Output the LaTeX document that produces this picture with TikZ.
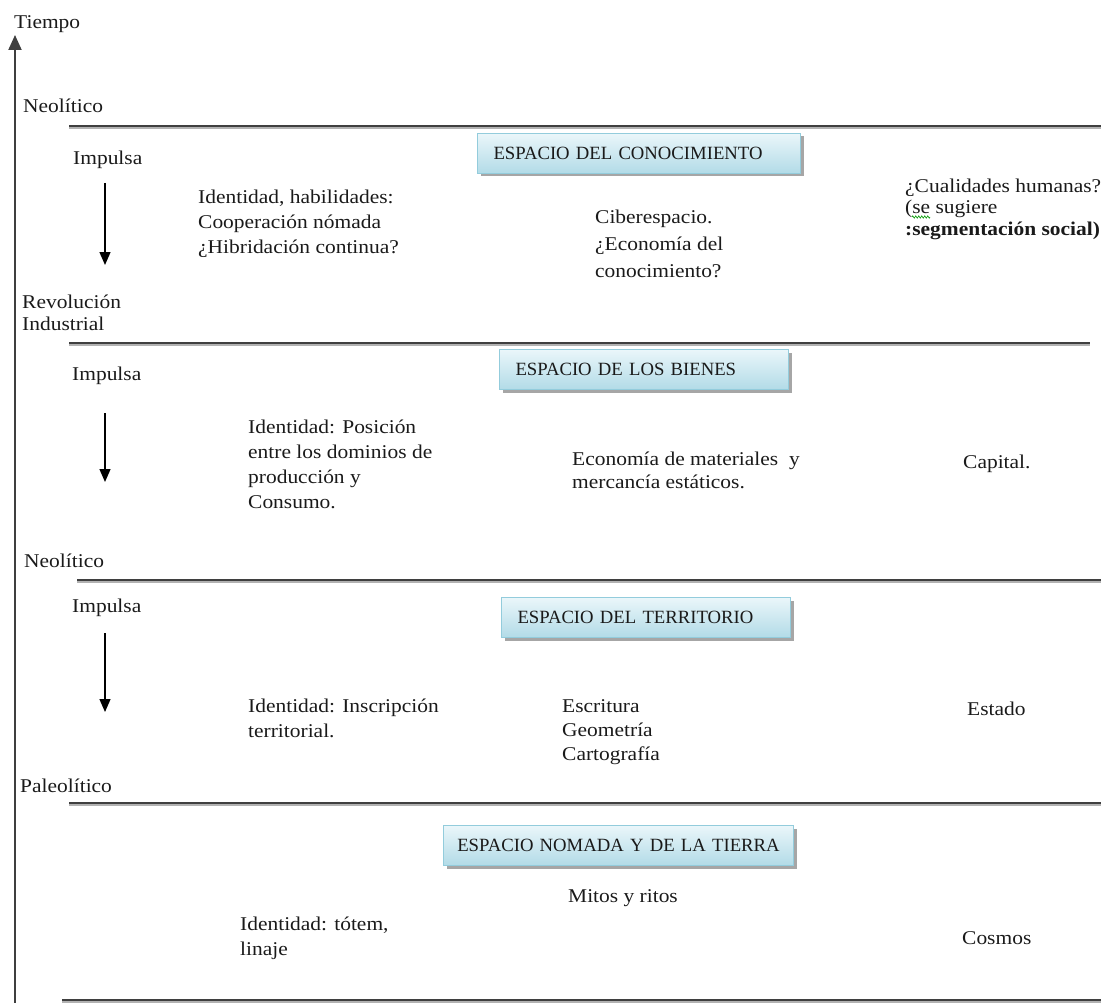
\documentclass[tikz,border=0pt]{standalone}
\usepackage{fontspec}
\setmainfont{Liberation Serif}[FakeStretch=1.1]
\newfontfamily\boxfont{Liberation Serif}
\usetikzlibrary{arrows.meta,shadows,decorations.pathmorphing}
\definecolor{linegray}{HTML}{3F3F3F}
\definecolor{boxtop}{HTML}{EAF6FA}
\definecolor{boxbot}{HTML}{B2DBE7}
\definecolor{boxedge}{HTML}{93CCDC}
\definecolor{txtc}{HTML}{1A1A1A}
\begin{document}
\begin{tikzpicture}[x=1pt,y=-1pt,
  txt/.style={anchor=base west, inner sep=0pt, align=left, text=txtc, font=\fontsize{19.5}{25}\selectfont},
  sp/.style={font=\fontsize{19.5}{#1}\selectfont},
  espbox/.style={draw=boxedge, line width=1pt, top color=boxtop, bottom color=boxbot,
    drop shadow={shadow xshift=3pt, shadow yshift=-3pt, fill=black!50, opacity=0.7},
    minimum height=40pt, anchor=north west, inner xsep=16pt, inner ysep=0pt, align=left,
    text=txtc, font=\boxfont\fontsize{18.7}{20}\selectfont},
  hline/.style={draw=linegray, line width=2pt},
  hshade/.style={draw=black!30, line width=1.2pt},
  axisline/.style={draw=linegray, line width=2pt, -{Triangle[length=15pt,width=13pt]}},
  downarrow/.style={draw=black, line width=1.3pt, -{Triangle[length=13pt,width=11pt]}}
]
\useasboundingbox (0,0) rectangle (1105,1003);

% horizontal separators
\coordinate (l1a) at (69,126);  \coordinate (l1b) at (1101,126);
\coordinate (l2a) at (69,343);  \coordinate (l2b) at (1090,343);
\coordinate (l3a) at (77,580);  \coordinate (l3b) at (1101,580);
\coordinate (l4a) at (69,803);  \coordinate (l4b) at (1101,803);
\coordinate (l5a) at (62,1000); \coordinate (l5b) at (1101,1000);
\foreach \n in {1,...,5}{
  \draw[hshade] ([yshift=-2pt]l\n a) -- ([yshift=-2pt]l\n b);
  \draw[hline] (l\n a) -- (l\n b);
}

% time axis
\coordinate (ax0) at (15,1003);
\coordinate (ax1) at (15,35);
\draw[axisline] (ax0) -- (ax1);

% impulse arrows
\coordinate (a1s) at (105,183); \coordinate (a1e) at (105,265);
\coordinate (a2s) at (105,413); \coordinate (a2e) at (105,482);
\coordinate (a3s) at (105,633); \coordinate (a3e) at (105,712);
\draw[downarrow] (a1s) -- (a1e);
\draw[downarrow] (a2s) -- (a2e);
\draw[downarrow] (a3s) -- (a3e);

% boxes
\node[espbox, text width=291pt] (b1) at (477,133) {ESPACIO DEL CONOCIMIENTO};
\node[espbox, text width=257pt] (b2) at (499,349) {ESPACIO DE LOS BIENES};
\node[espbox, text width=257pt] (b3) at (501,597) {ESPACIO DEL TERRITORIO};
\node[espbox, inner xsep=8pt, text width=334pt, align=center] (b4) at (443,825) {ESPACIO NOMADA Y DE LA TIERRA};

% left labels (multi-line nodes: base = baseline of last line)
\node[txt] (tiempo) at (14,29) {Tiempo};
\node[txt] (neo1) at (23,113) {Neolítico};
\node[txt] (imp1) at (73,165) {Impulsa};
\node[txt, sp=22] (rev) at (22,330) {Revolución\\Industrial};
\node[txt] (imp2) at (72,380) {Impulsa};
\node[txt] (neo2) at (24,567) {Neolítico};
\node[txt] (imp3) at (72,612) {Impulsa};
\node[txt] (paleo) at (20,792) {Paleolítico};

% section 1
\node[txt, sp=25] (id1) at (198,253) {Identidad, habilidades:\\Cooperación nómada\\¿Hibridación continua?};
\node[txt, sp=27] (cib) at (595,277) {Ciberespacio.\\¿Economía del\\conocimiento?};
\node[txt, sp=21.5] (cual) at (905,235) {¿Cualidades humanas?\\(se sugiere\\\textbf{:segmentación social)}};
\coordinate (sq1) at (912,217); \coordinate (sq2) at (930,217);
\draw[green!60!black, line width=0.6pt, decorate, decoration={zigzag, amplitude=1.2pt, segment length=3pt}] (sq1) -- (sq2);

% section 2
\node[txt, sp=25] (id2) at (248,508) {Identidad: Posición\\entre los dominios de\\producción y\\Consumo.};
\node[txt, sp=23] (eco) at (572,488) {Economía de materiales \ y\\mercancía estáticos.};
\node[txt] (capital) at (963,468) {Capital.};

% section 3
\node[txt, sp=25] (id3) at (248,737) {Identidad: Inscripción\\territorial.};
\node[txt, sp=24] (esc) at (562,760) {Escritura\\Geometría\\Cartografía};
\node[txt] (estado) at (967,715) {Estado};

% section 4
\node[txt] (mitos) at (568,902) {Mitos y ritos};
\node[txt, sp=25] (id4) at (240,955) {Identidad: tótem,\\linaje};
\node[txt] (cosmos) at (962,944) {Cosmos};
\end{tikzpicture}
\end{document}
